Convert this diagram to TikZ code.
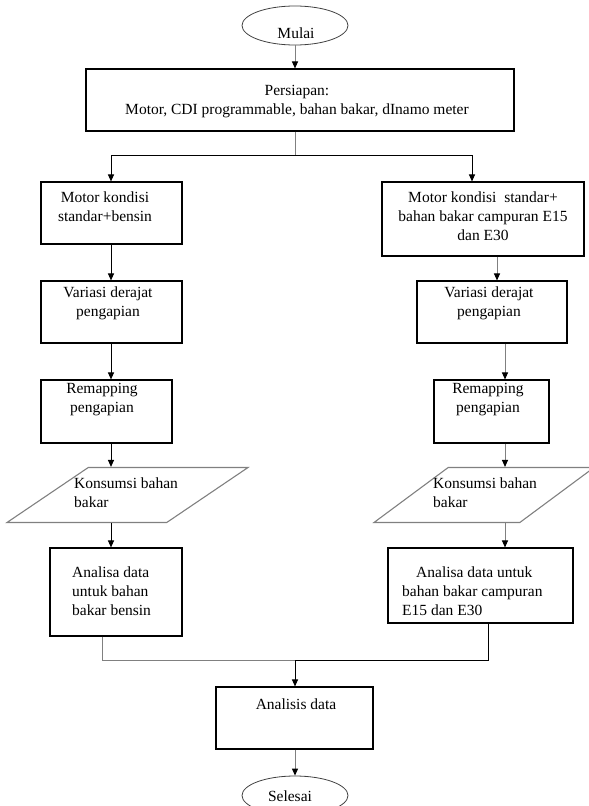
\documentclass[tikz,border=0pt]{standalone}
\usepackage{fontspec}
\setmainfont{Liberation Serif}
\usetikzlibrary{shapes.geometric,arrows.meta,positioning}
\definecolor{lineg}{RGB}{128,128,128}

\begin{document}
\begin{tikzpicture}[x=1pt,y=-1pt,
		box/.style={draw,line width=1.1pt,inner sep=0pt},
		io/.style={draw=lineg,line width=1.1pt,trapezium,trapezium left angle=44,trapezium right angle=136,trapezium stretches=true,minimum height=55pt,inner sep=2pt},
		term/.style={draw=black!75,ellipse,line width=0.8pt,minimum width=106pt,minimum height=39pt,inner sep=0pt},
		txt/.style={font=\fontsize{15.5}{19}\selectfont,align=center,anchor=base,inner sep=0pt},
		arr/.style={line width=1pt,-{Triangle[width=6pt,length=7pt]}},
		arrg/.style={line width=1pt,draw=lineg,-{Triangle[width=6pt,length=7pt,color=black]}}]
			\useasboundingbox (0,0) rectangle (589,806);
			\node[term] (mulai) at (295,25.5) {};
			\node[txt] (mulaiT) at (296,38) {Mulai};
			\node[box,minimum width=428pt,minimum height=62pt] (prep) at (300,100) {};
			\node[txt] (prepT) at (297,114) {Persiapan:\\Motor, CDI programmable, bahan bakar, dInamo meter};
			\node[box,minimum width=141pt,minimum height=62pt] (l1) at (111.5,213) {};
			\node[txt] (l1T) at (105,221) {Motor kondisi\\standar+bensin};
			\node[box,minimum width=141pt,minimum height=62pt] (l2) at (111.5,312) {};
			\node[txt] (l2T) at (108,316) {Variasi derajat\\pengapian};
			\node[box,minimum width=131pt,minimum height=63pt] (l3) at (106.5,411.5) {};
			\node[txt] (l3T) at (102,412) {Remapping\\pengapian};
			\node[io,minimum width=241pt] (l4) at (127.5,495) {};
			\node[txt,align=left,anchor=base west] (l4T) at (74,507) {Konsumsi bahan\\bakar};
			\node[box,minimum width=132pt,minimum height=88pt] (l5) at (116,592) {};
			\node[txt,align=left,anchor=base west] (l5T) at (72,615) {Analisa data\\untuk bahan\\bakar bensin};
			\node[box,minimum width=202pt,minimum height=74pt] (r1) at (483,219) {};
			\node[txt] (r1T) at (483,240) {Motor kondisi\ \ standar+\\bahan bakar campuran E15\\dan E30};
			\node[box,minimum width=150pt,minimum height=62pt] (r2) at (492,312) {};
			\node[txt] (r2T) at (489,316) {Variasi derajat\\pengapian};
			\node[box,minimum width=115pt,minimum height=63pt] (r3) at (491.5,411.5) {};
			\node[txt] (r3T) at (488,412) {Remapping\\pengapian};
			\node[io,minimum width=220pt] (r4) at (484,495) {};
			\node[txt,align=left,anchor=base west] (r4T) at (433,507) {Konsumsi bahan\\bakar};
			\node[box,minimum width=185pt,minimum height=75pt] (r5) at (480.5,585.5) {};
			\node[txt,align=left,anchor=base west] (r5T) at (402,615) {\hspace{14pt}Analisa data untuk\\bahan bakar campuran\\E15 dan E30};
			\node[box,minimum width=157pt,minimum height=62pt] (an) at (294.5,718) {};
			\node[txt] (anT) at (296,709) {Analisis data};
			\node[term] (sel) at (295,795.5) {};
			\node[txt] (selT) at (290,801) {Selesai};
			\coordinate (lx) at (111,0);
			\coordinate (rxa) at (472,0);
			\coordinate (rxb) at (497,0);
			\coordinate (rxc) at (505,0);
			\coordinate (mlx) at (102,0);
			\coordinate (mrx) at (488,0);
			\coordinate (split) at (295,155);
			\coordinate (join) at (295,660);
			\draw[arrg] (mulai.south) -- (mulai.south |- prep.north);
			\draw[lineg,line width=1pt] (prep.south -| split) -- (split);
			\draw[arr] (split) -| (l1.north -| lx);
			\draw[arr] (split) -| (r1.north -| rxa);
			\foreach \a/\b in {l1/l2,l2/l3,l3/l4,l4/l5}
				\draw[arr] (\a.south -| lx) -- (\b.north -| lx);
			\draw[arrg] (r1.south -| rxb) -- (r2.north -| rxb);
			\foreach \a/\b in {r2/r3,r3/r4,r4/r5}
				\draw[arrg] (\a.south -| rxc) -- (\b.north -| rxc);
			\draw[lineg,line width=1pt] (l5.south -| mlx) |- (join);
			\draw[line width=1pt] (r5.south -| mrx) |- (join);
			\draw[arr] (join) -- (join |- an.north);
			\draw[arrg] (an.south -| join) -- (sel.north);
\end{tikzpicture}
\end{document}
